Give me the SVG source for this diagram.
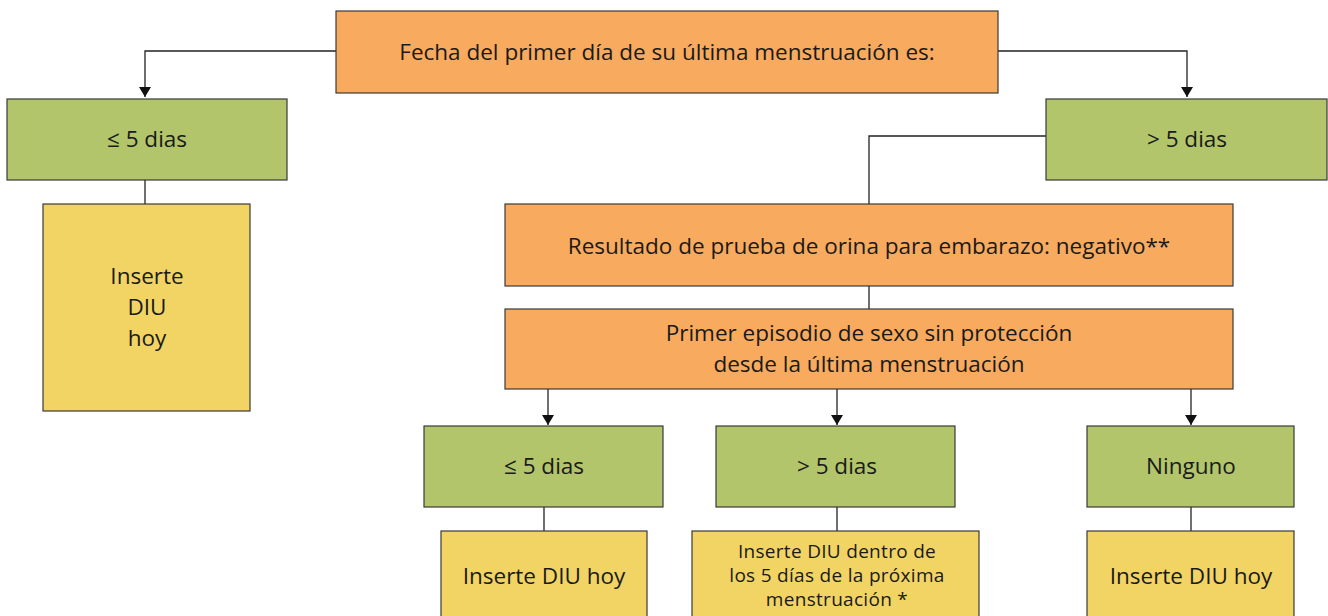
<svg xmlns="http://www.w3.org/2000/svg" width="1328" height="616" viewBox="0 0 1328 616">
<defs>
<marker id="arr" viewBox="0 0 10 12" refX="10" refY="6" markerWidth="10" markerHeight="12" markerUnits="userSpaceOnUse" orient="auto">
<path d="M0,0 L10,6 L0,12 Z" fill="#111"/>
</marker>
<style>
.o{fill:#F8AA5E;stroke:#3a3a3a;stroke-width:1.2}
.g{fill:#B2C56A;stroke:#3a3a3a;stroke-width:1.2}
.y{fill:#F2D464;stroke:#3a3a3a;stroke-width:1.2}
.t{font-family:"Open Sans","Noto Sans","Liberation Sans",sans-serif;font-size:22.5px;fill:#1a1a1a;text-anchor:middle}
.s{font-size:19px;letter-spacing:0.3px}
.c{fill:none;stroke:#222;stroke-width:1.3}
</style>
</defs>
<rect width="1328" height="616" fill="#fff"/>
<g id="connectors">
<polyline class="c" points="336,51 145,51 145,97" marker-end="url(#arr)"/>
<polyline class="c" points="998,51 1187,51 1187,97" marker-end="url(#arr)"/>
<line class="c" x1="145" y1="180" x2="145" y2="204"/>
<polyline class="c" points="1046,136 869,136 869,204"/>
<line class="c" x1="869" y1="286" x2="869" y2="309"/>
<line class="c" x1="548" y1="389" x2="548" y2="425" marker-end="url(#arr)"/>
<line class="c" x1="837" y1="389" x2="837" y2="425" marker-end="url(#arr)"/>
<line class="c" x1="1191" y1="389" x2="1191" y2="425" marker-end="url(#arr)"/>
<line class="c" x1="544" y1="507" x2="544" y2="531"/>
<line class="c" x1="837" y1="507" x2="837" y2="531"/>
<line class="c" x1="1191" y1="507" x2="1191" y2="531"/>
</g>
<g id="n-top">
<rect class="o" x="336" y="11" width="662" height="82"/>
<text class="t" x="667" y="60">Fecha del primer día de su última menstruación es:</text>
</g>
<g id="n-left-le5">
<rect class="g" x="7" y="99" width="280" height="81"/>
<text class="t" x="147" y="147">≤ 5 dias</text>
</g>
<g id="n-right-gt5">
<rect class="g" x="1046" y="99" width="281" height="81"/>
<text class="t" x="1187" y="147">&gt; 5 dias</text>
</g>
<g id="n-insert-left">
<rect class="y" x="43" y="204" width="207" height="207"/>
<text class="t" x="147" y="284">Inserte</text>
<text class="t" x="147" y="315">DIU</text>
<text class="t" x="147" y="346">hoy</text>
</g>
<g id="n-prueba">
<rect class="o" x="505" y="204" width="728" height="82"/>
<text class="t" x="869" y="254">Resultado de prueba de orina para embarazo: negativo**</text>
</g>
<g id="n-episodio">
<rect class="o" x="505" y="309" width="728" height="80"/>
<text class="t" x="869" y="341">Primer episodio de sexo sin protección</text>
<text class="t" x="869" y="372">desde la última menstruación</text>
</g>
<g id="n-b-le5">
<rect class="g" x="424" y="426" width="239" height="81"/>
<text class="t" x="544" y="474">≤ 5 dias</text>
</g>
<g id="n-b-gt5">
<rect class="g" x="716" y="426" width="239" height="81"/>
<text class="t" x="837" y="474">&gt; 5 dias</text>
</g>
<g id="n-b-ninguno">
<rect class="g" x="1087" y="426" width="207" height="81"/>
<text class="t" x="1191" y="474">Ninguno</text>
</g>
<g id="n-y1">
<rect class="y" x="441" y="531" width="206" height="100"/>
<text class="t" x="544" y="584">Inserte DIU hoy</text>
</g>
<g id="n-y2">
<rect class="y" x="692" y="531" width="287" height="100"/>
<text class="t s" x="837" y="558">Inserte DIU dentro de</text>
<text class="t s" x="837" y="582">los 5 días de la próxima</text>
<text class="t s" x="837" y="606">menstruación *</text>
</g>
<g id="n-y3">
<rect class="y" x="1087" y="531" width="207" height="100"/>
<text class="t" x="1191" y="584">Inserte DIU hoy</text>
</g>
</svg>
